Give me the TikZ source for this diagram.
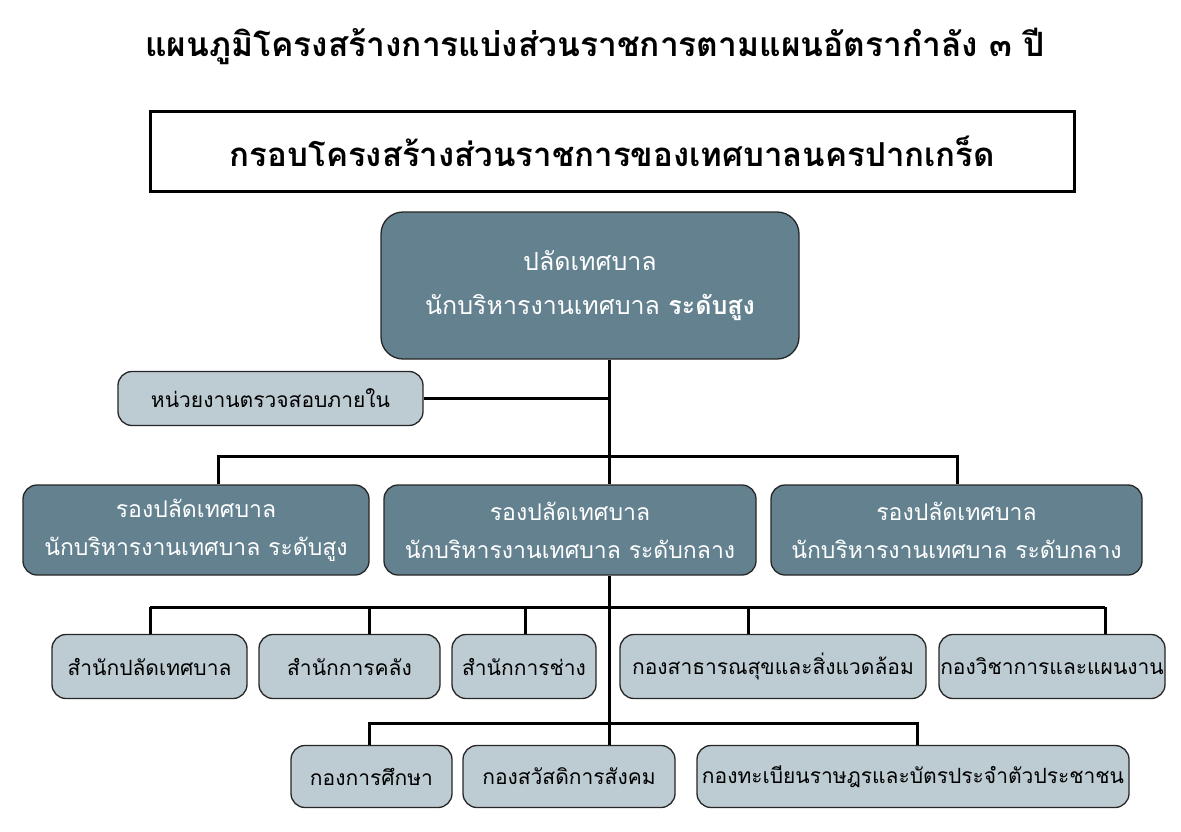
\documentclass[tikz,border=0pt]{standalone}
\usepackage{fontspec}
\newfontfamily\thaifont[Script=Thai]{Loma}
\definecolor{boss}{HTML}{63818F}
\definecolor{pale}{HTML}{BDCBD2}
\begin{document}
\begin{tikzpicture}[x=1pt,y=-1pt,line join=miter,
  conn/.style={line width=3pt},
  unit/.style={draw=black!85,line width=1.3pt,rounded corners=14pt,inner sep=0pt,align=center},
  chiefbox/.style={unit,fill=boss,text=white,rounded corners=22pt,font=\thaifont\fontsize{25}{44}\selectfont},
  deputy/.style={unit,fill=boss,text=white,minimum height=90,font=\thaifont\fontsize{23}{38}\selectfont},
  office/.style={unit,fill=pale,font=\thaifont\fontsize{21}{26}\selectfont}]
\useasboundingbox (0,0) rectangle (1181,832);
% heading and frame
\node[font=\thaifont\bfseries\fontsize{33.5}{38}\selectfont] (title) at (595,46) {แผนภูมิโครงสร้างการแบ่งส่วนราชการตามแผนอัตรากำลัง ๓ ปี};
\node[draw,line width=3pt,minimum width=924,minimum height=80,font=\thaifont\bfseries\fontsize{33}{40}\selectfont] (frame) at (612.5,151.5) {กรอบโครงสร้างส่วนราชการของเทศบาลนครปากเกร็ด};
% boxes
\node[chiefbox,minimum width=418,minimum height=147] (chief) at (590,285.5) {ปลัดเทศบาล\\นักบริหารงานเทศบาล \textbf{ระดับสูง}};
\node[office,minimum width=305,minimum height=54] (audit) at (270.5,398.5) {หน่วยงานตรวจสอบภายใน};
\node[deputy,minimum width=346] (dep1) at (196,530) {รองปลัดเทศบาล\\นักบริหารงานเทศบาล ระดับสูง};
\node[deputy,minimum width=372] (dep2) at (570,530) {รองปลัดเทศบาล\\นักบริหารงานเทศบาล ระดับกลาง};
\node[deputy,minimum width=371] (dep3) at (956.5,530) {รองปลัดเทศบาล\\นักบริหารงานเทศบาล ระดับกลาง};
\node[office,minimum width=195,minimum height=64] (off1) at (149.5,666.5) {สำนักปลัดเทศบาล};
\node[office,minimum width=181,minimum height=64] (off2) at (349.5,666.5) {สำนักการคลัง};
\node[office,minimum width=144,minimum height=64] (off3) at (524,666.5) {สำนักการช่าง};
\node[office,minimum width=306,minimum height=64] (off4) at (773,666.5) {กองสาธารณสุขและสิ่งแวดล้อม};
\node[office,minimum width=226,minimum height=64] (off5) at (1052,666.5) {กองวิชาการและแผนงาน};
\node[office,minimum width=161,minimum height=62] (div1) at (371.5,776.5) {กองการศึกษา};
\node[office,minimum width=212,minimum height=62] (div2) at (569,776.5) {กองสวัสดิการสังคม};
\node[office,minimum width=432,minimum height=62] (div3) at (913,776.5) {กองทะเบียนราษฎรและบัตรประจำตัวประชาชน};
% lines
\coordinate (trunk) at (609,0);
\draw[conn] (chief.south -| trunk) -- (dep2.north -| trunk);
\draw[conn] (dep2.south -| trunk) -- (div2.north -| trunk);
\draw[conn] (audit.east) -- (audit.east -| trunk);
\draw[conn] (dep1.north -| 218,0) |- (957,456) -- (dep3.north -| 957,0);
\draw[conn] (150,607) -- (1105,607);
\foreach \x/\n in {150/off1,369/off2,525/off3,748/off4,1105/off5}
  \draw[conn] (\x,607) -- (\n.north -| \x,0);
\draw[conn] (div1.north -| 369,0) |- (917,723) -- (div3.north -| 917,0);
\end{tikzpicture}
\end{document}
